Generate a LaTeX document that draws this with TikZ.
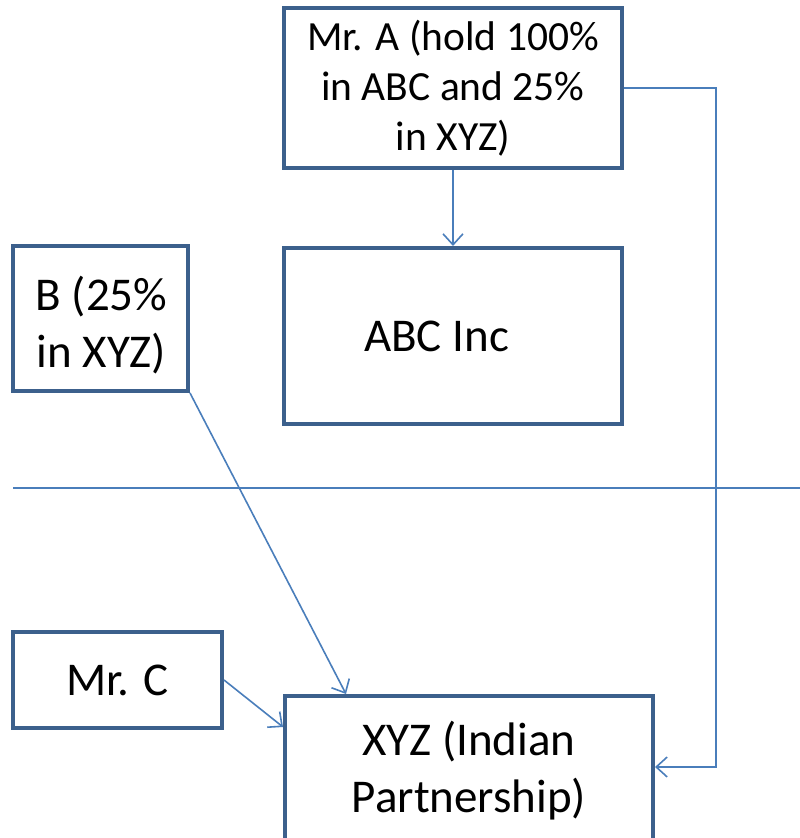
\documentclass[tikz,border=0pt]{standalone}
\usepackage{fontspec}
\setmainfont{Carlito}
\usetikzlibrary{arrows.meta,calc}
\definecolor{boxblue}{RGB}{60,96,140}
\definecolor{linkblue}{RGB}{74,126,187}
\begin{document}
\begin{tikzpicture}[x=1pt,y=1pt,
  box/.style={draw=boxblue,line width=4pt,fill=white,rectangle,align=center,
    inner sep=0pt,font=\fontsize{47}{57}\selectfont},
  small/.style={font=\fontsize{41.5}{50}\selectfont},
  txt/.style={align=center,inner sep=0pt,font=\fontsize{47}{57}\selectfont},
  conn/.style={draw=linkblue,line width=1.6pt,-{Straight Barb[length=11pt,width=20pt,line width=1.6pt]}},
  plain/.style={draw=linkblue,line width=1.6pt}]
\clip (0,0) rectangle (800,838);
\fill[white] (0,0) rectangle (800,838);
\node[box,small,minimum width=338pt,minimum height=160pt] (A) at (453,750) {Mr. A (hold 100\%\\in ABC and 25\%\\in XYZ)};
\node[box,minimum width=338pt,minimum height=176pt] (ABC) at (453,502) {ABC Inc\hspace{33pt}};
\node[box,minimum width=175pt,minimum height=145pt] (B) at (100.5,519.5) {};
\node[txt] (Bt) at ($(B.center)+(1,-7)$) {B (25\%\\in XYZ)};
\node[box,minimum width=209pt,minimum height=96pt] (C) at (117.5,158) {Mr. C};
\node[box,minimum width=368pt,minimum height=150pt] (X) at (469,67) {XYZ (Indian\\Partnership)};
\coordinate (L1) at (13,350);
\coordinate (L2) at (800,350);
\draw[plain] (L1) -- (L2);
\coordinate (R) at (716,71);
\draw[conn] (A.south) -- (ABC.north);
\draw[conn] (A.east) -| (R) -- (X.east |- R);
\draw[conn] (B.south east) -- ($(X.north west)+(63,0)$);
\draw[conn] (C.east) -- ($(X.west)+(0,44)$);
\end{tikzpicture}
\end{document}
